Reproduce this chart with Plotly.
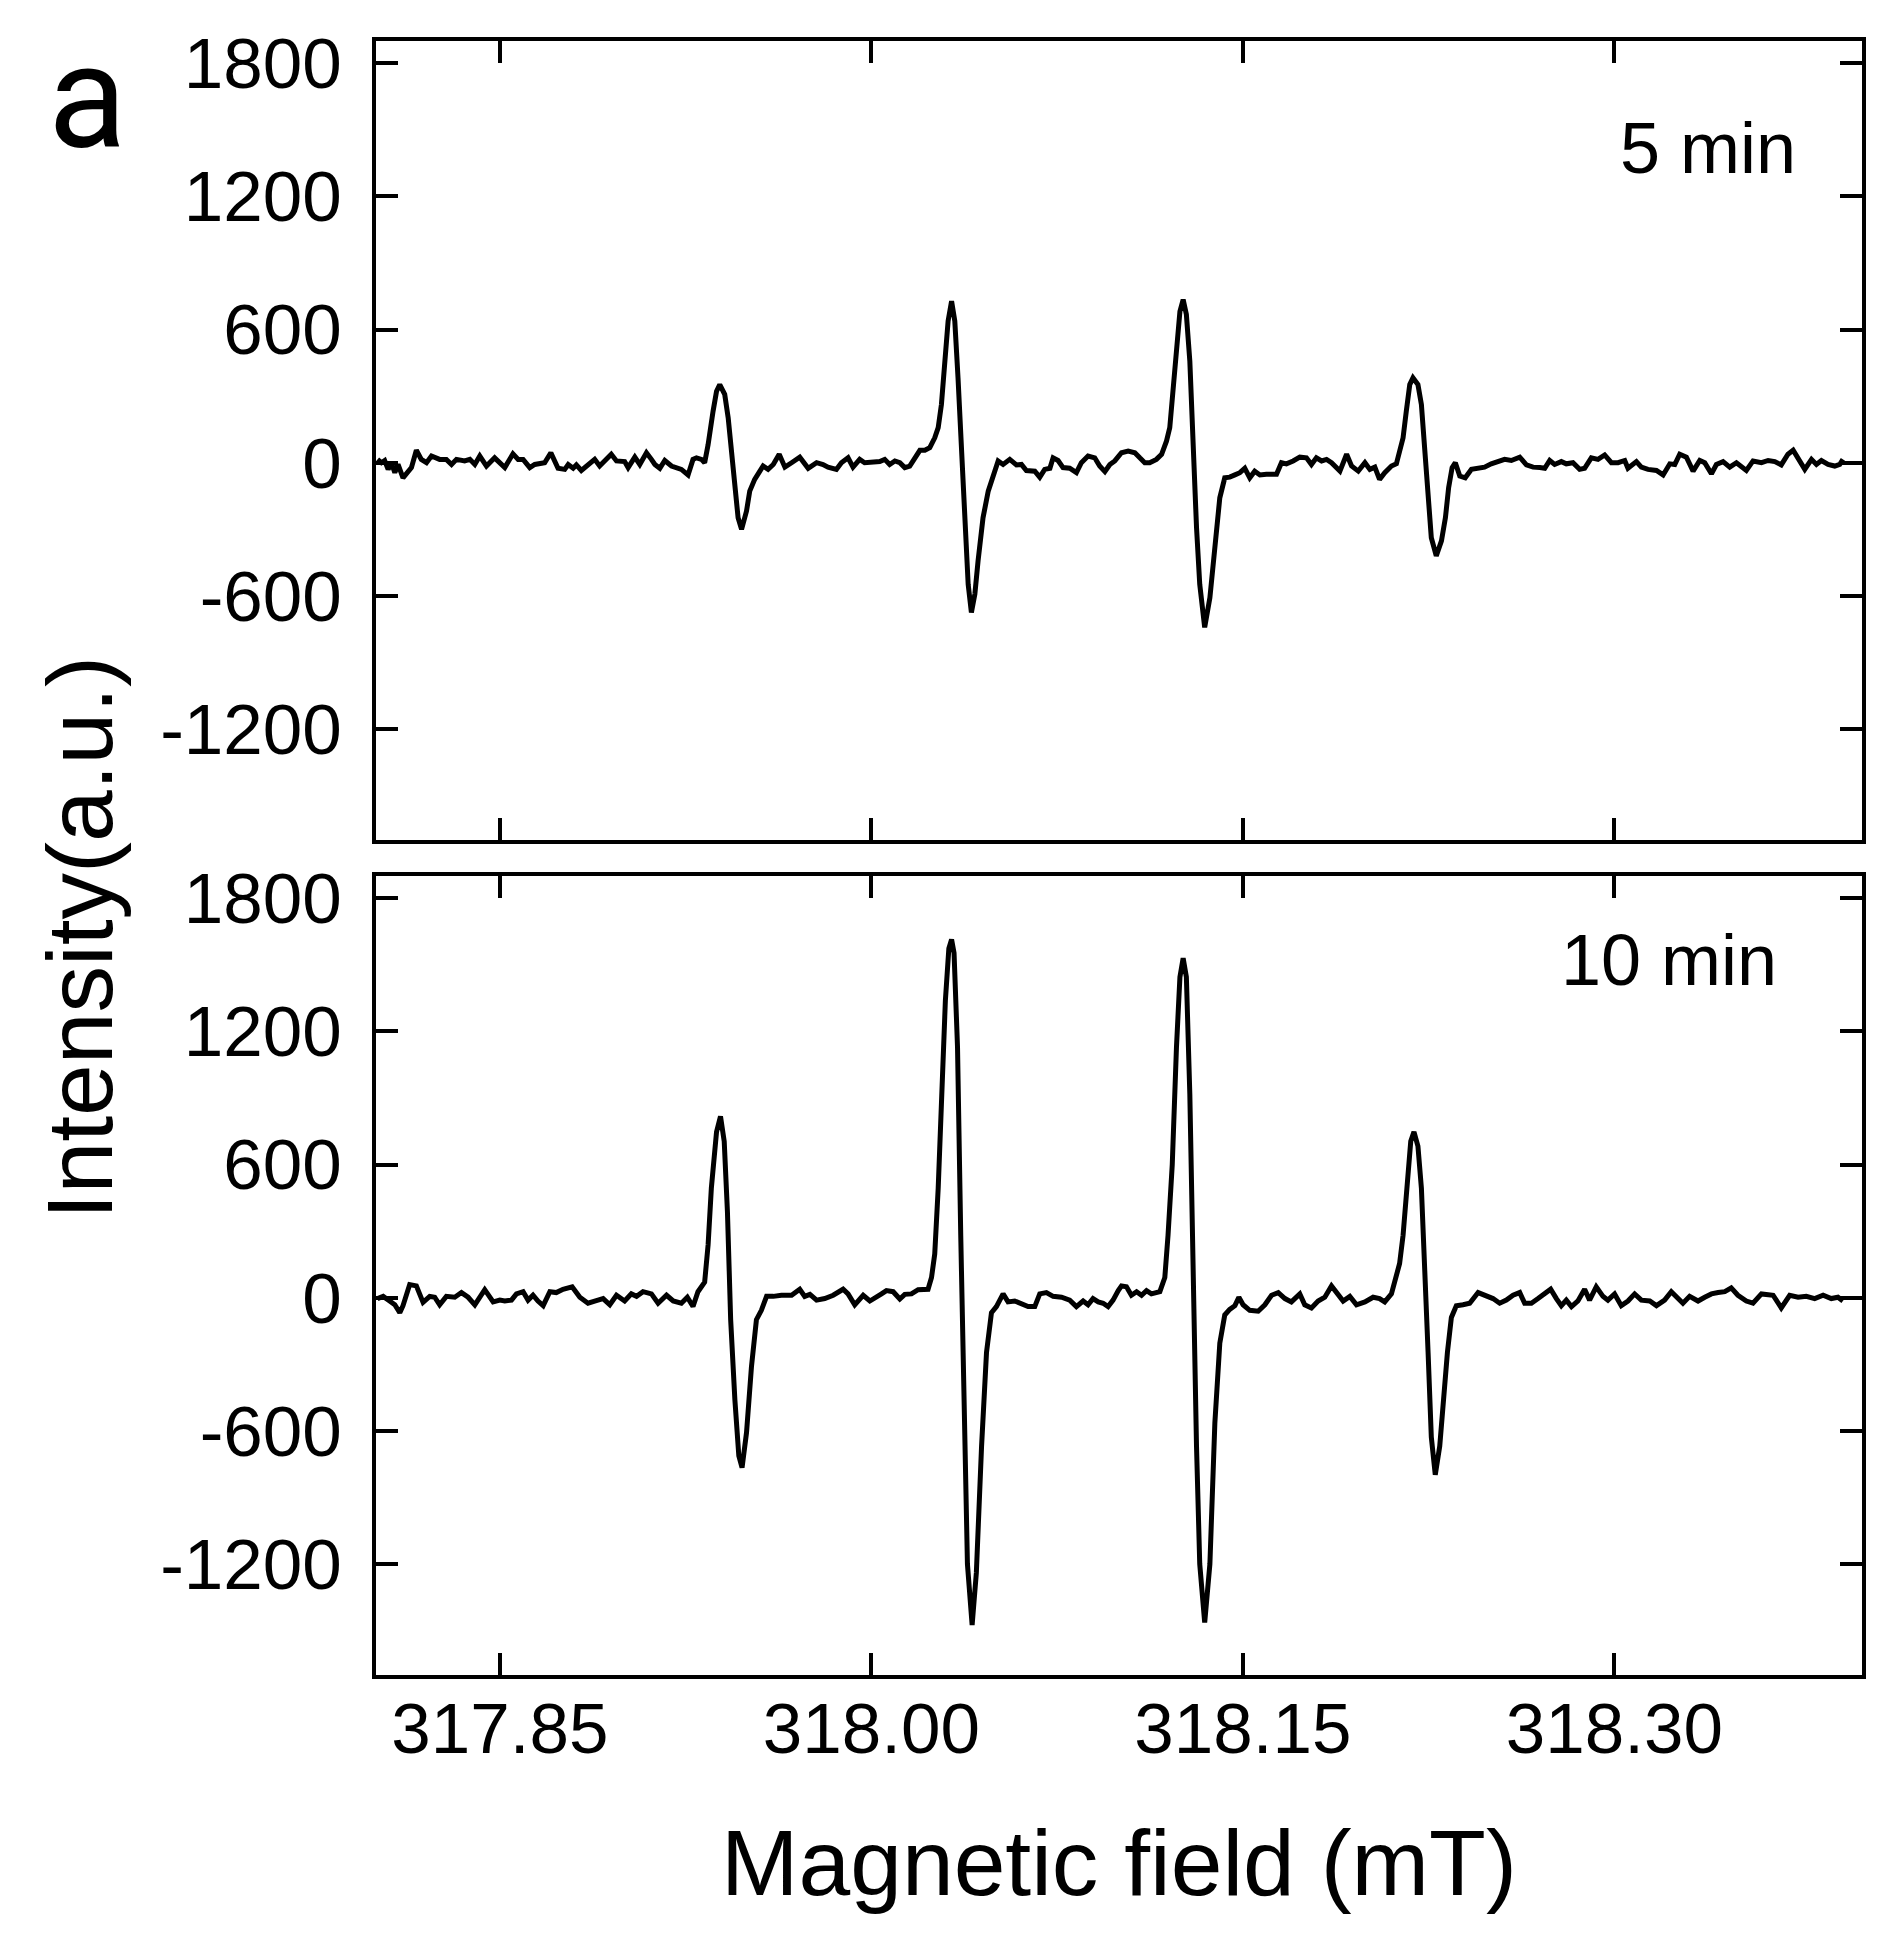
import plotly.graph_objects as go

# ---- 5 min spectrum (top panel) ----
field_5min = [
    317.8006, 317.8022, 317.8035, 317.8049, 317.8062, 317.8076, 317.8089, 317.8109, 317.8143, 317.8163,
    317.8183, 317.8204, 317.8224, 317.8257, 317.8284, 317.8305, 317.8325, 317.8358, 317.8379, 317.8399,
    317.8419, 317.8446, 317.8479, 317.8520, 317.8553, 317.8574, 317.8594, 317.8621, 317.8641, 317.8681,
    317.8706, 317.8735, 317.8762, 317.8776, 317.8796, 317.8809, 317.8829, 317.8856, 317.8883, 317.8903,
    317.8950, 317.8971, 317.9004, 317.9018, 317.9045, 317.9065, 317.9092, 317.9112, 317.9126, 317.9146,
    317.9166, 317.9193, 317.9233, 317.9260, 317.9280, 317.9294, 317.9314, 317.9327, 317.9341, 317.9361,
    317.9375, 317.9388, 317.9408, 317.9422, 317.9435, 317.9449, 317.9462, 317.9476, 317.9496, 317.9509,
    317.9529, 317.9550, 317.9563, 317.9583, 317.9604, 317.9628, 317.9651, 317.9678, 317.9711, 317.9745,
    317.9779, 317.9805, 317.9825, 317.9859, 317.9879, 317.9906, 317.9926, 317.9953, 317.9973,
    318.0034, 318.0054, 318.0074, 318.0095, 318.0115, 318.0135, 318.0155, 318.0175, 318.0196, 318.0216,
    318.0236, 318.0256, 318.0270, 318.0283, 318.0297, 318.0310, 318.0324, 318.0337, 318.0350, 318.0364,
    318.0377, 318.0391, 318.0404, 318.0418, 318.0431, 318.0451, 318.0472, 318.0492, 318.0512, 318.0532,
    318.0559, 318.0586, 318.0606, 318.0626, 318.0660, 318.0680, 318.0700, 318.0721, 318.0734, 318.0754,
    318.0774, 318.0801, 318.0828, 318.0848, 318.0875, 318.0902, 318.0922, 318.0943, 318.0963, 318.0983,
    318.1010, 318.1037, 318.1064, 318.1084, 318.1104, 318.1124, 318.1151, 318.1172, 318.1192, 318.1205,
    318.1219, 318.1232, 318.1246, 318.1259, 318.1272, 318.1286, 318.1299, 318.1313, 318.1326, 318.1346,
    318.1367, 318.1387, 318.1407, 318.1427, 318.1447, 318.1468, 318.1488, 318.1508, 318.1528, 318.1548,
    318.1569, 318.1595, 318.1636, 318.1656, 318.1676, 318.1703, 318.1730, 318.1757, 318.1777, 318.1797,
    318.1818, 318.1838, 318.1858, 318.1892, 318.1919, 318.1939, 318.1966, 318.1993, 318.2013, 318.2033,
    318.2052, 318.2073, 318.2100, 318.2120, 318.2133, 318.2147, 318.2160, 318.2174, 318.2187, 318.2207,
    318.2221, 318.2234, 318.2248, 318.2261, 318.2281, 318.2302, 318.2318, 318.2331, 318.2345, 318.2358,
    318.2376, 318.2398, 318.2423, 318.2450, 318.2476, 318.2503, 318.2530, 318.2557, 318.2584, 318.2618,
    318.2645, 318.2672, 318.2699, 318.2719, 318.2739, 318.2759, 318.2786, 318.2806, 318.2833, 318.2860,
    318.2880, 318.2907, 318.2934, 318.2961, 318.2988, 318.3015, 318.3042, 318.3055, 318.3089, 318.3109,
    318.3136, 318.3170, 318.3197, 318.3224, 318.3244, 318.3264, 318.3291, 318.3318, 318.3345, 318.3365,
    318.3392, 318.3412, 318.3439, 318.3466, 318.3493, 318.3533, 318.3560, 318.3594, 318.3621, 318.3648,
    318.3674, 318.3701, 318.3722, 318.3742, 318.3769, 318.3796, 318.3816, 318.3836, 318.3863, 318.3890,
    318.3910, 318.3923,
]
intensity_5min = [
    15, 0, 10, -30, 0, -45, -8, -68, -22, 56,
    15, 0, 30, 15, 15, -8, 15, 8, 15, -8,
    30, -15, 22, -22, 40, 15, 15, -22, -8, 0,
    45, -25, -30, -8, -25, -10, -35, -8, 15, -15,
    38, 8, 5, -22, 25, -8, 45, 15, -8, -25,
    10, -15, -30, -55, 15, 22, 15, 0, 82, 232,
    322, 352, 308, 202, 38, -142, -248, -300, -218, -128,
    -75, -38, -15, -30, -8, 38, -20, 0, 25, -25,
    0, -8, -20, -30, 0, 22, -20, 15, 0,
    5, 15, -8, 8, 0, -22, -15, 15, 56, 56,
    68, 112, 158, 262, 458, 638, 728, 638, 382, 82,
    -292, -548, -675, -592, -442, -248, -128, -52, 8, -8,
    15, -10, -8, -35, -38, -65, -30, -25, 22, 10,
    -22, -25, -45, 0, 30, 22, -15, -40, -8, 8,
    45, 52, 45, 22, 0, 0, 15, 38, 98, 158,
    352, 532, 682, 735, 668, 458, 82, -292, -548, -742,
    -608, -368, -158, -68, -65, -55, -45, -25, -68, -38,
    -55, -52, -52, 0, -5, 8, 25, 22, -8, 22,
    8, 15, 0, -38, 38, -15, -38, 0, -30, -20,
    -75, -45, -15, -5, 52, 112, 232, 352, 382, 352,
    262, 52, -172, -338, -420, -352, -248, -112, -22, 0,
    -60, -68, -30, -25, -20, -5, 8, 15, 10, 25,
    -10, -20, -22, -25, 10, -8, 5, -5, 0, -30,
    -25, 22, 15, 35, 0, 0, 10, -25, 5, -20,
    -30, -35, -55, -5, -8, 38, 25, -38, 10, 0,
    -50, -8, 5, -20, 0, -35, 8, 0, 10, 5,
    -10, 38, 56, 22, -30, 15, -8, 10, -8, -15,
    -8, 15,
]

# ---- 10 min spectrum (bottom panel) ----
field_10min = [
    317.8006, 317.8029, 317.8055, 317.8076, 317.8096, 317.8109, 317.8136, 317.8163, 317.8190, 317.8217,
    317.8237, 317.8257, 317.8284, 317.8318, 317.8345, 317.8372, 317.8399, 317.8439, 317.8473, 317.8500,
    317.8520, 317.8547, 317.8567, 317.8594, 317.8614, 317.8634, 317.8654, 317.8675, 317.8702, 317.8728,
    317.8755, 317.8792, 317.8823, 317.8856, 317.8883, 317.8917, 317.8944, 317.8971, 317.9004, 317.9031,
    317.9052, 317.9078, 317.9112, 317.9139, 317.9173, 317.9200, 317.9233, 317.9257, 317.9280, 317.9300,
    317.9327, 317.9341, 317.9354, 317.9375, 317.9391, 317.9406, 317.9419, 317.9432, 317.9449, 317.9465,
    317.9478, 317.9496, 317.9516, 317.9536, 317.9556, 317.9577, 317.9604, 317.9637, 317.9678, 317.9711,
    317.9731, 317.9752, 317.9779, 317.9812, 317.9846, 317.9886, 317.9906, 317.9933, 317.9967, 317.9994,
    318.0041, 318.0061, 318.0088, 318.0115, 318.0135, 318.0162, 318.0189, 318.0229, 318.0243, 318.0256,
    318.0270, 318.0283, 318.0299, 318.0313, 318.0324, 318.0334, 318.0348, 318.0361, 318.0375, 318.0388,
    318.0407, 318.0424, 318.0445, 318.0465, 318.0485, 318.0505, 318.0532, 318.0552, 318.0579, 318.0606,
    318.0633, 318.0660, 318.0680, 318.0707, 318.0734, 318.0768, 318.0801, 318.0828, 318.0855, 318.0875,
    318.0895, 318.0916, 318.0936, 318.0956, 318.0976, 318.0997, 318.1010, 318.1030, 318.1050, 318.1071,
    318.1091, 318.1111, 318.1131, 318.1165, 318.1185, 318.1198, 318.1215, 318.1232, 318.1246, 318.1259,
    318.1272, 318.1286, 318.1299, 318.1313, 318.1326, 318.1346, 318.1367, 318.1387, 318.1407, 318.1427,
    318.1447, 318.1468, 318.1484, 318.1501, 318.1528, 318.1562, 318.1589, 318.1616, 318.1643, 318.1670,
    318.1696, 318.1730, 318.1750, 318.1777, 318.1804, 318.1831, 318.1858, 318.1885, 318.1905, 318.1932,
    318.1959, 318.1993, 318.2026,
    318.2052, 318.2073, 318.2100, 318.2120, 318.2133, 318.2147, 318.2160, 318.2178, 318.2191, 318.2207,
    318.2221, 318.2234, 318.2248, 318.2261, 318.2277, 318.2295, 318.2312, 318.2326, 318.2342, 318.2362,
    318.2389, 318.2416, 318.2450, 318.2483, 318.2510, 318.2537, 318.2564, 318.2591, 318.2618, 318.2638,
    318.2665, 318.2692, 318.2719, 318.2743, 318.2766, 318.2786, 318.2806, 318.2827, 318.2853, 318.2880,
    318.2900, 318.2927, 318.2954, 318.2974, 318.3001, 318.3028, 318.3055, 318.3082, 318.3109, 318.3143,
    318.3170, 318.3203, 318.3230, 318.3257, 318.3277, 318.3304, 318.3338, 318.3365, 318.3392, 318.3419,
    318.3446, 318.3472, 318.3499, 318.3533, 318.3560, 318.3594, 318.3641, 318.3674, 318.3708, 318.3742,
    318.3775, 318.3809, 318.3843, 318.3876, 318.3903, 318.3923,
]
intensity_10min = [
    -4, 6, -15, -32, -68, -36, 59, 53, -21, 6,
    2, -32, 6, 2, 23, 2, -32, 36, -19, -11,
    -15, -11, 17, 27, -11, 11, -15, -36, 27, 23,
    38, 49, 2, -25, -15, -4, -32, 11, -15, 17,
    6, 27, 17, -25, 11, -15, -25, 2, -40, 27,
    70, 239, 493, 747, 817, 704, 387, -99, -459, -713,
    -766, -608, -311, -99, -57, 6, 6, 11, 11, 38,
    6, 15, -11, -4, 11, 38, 17, -32, 11, -15,
    17, 32, 27, -6, 15, 17, 36, 38, 91, 197,
    494, 917, 1340, 1573, 1614, 1553, 1128, 281, -565, -1200,
    -1475, -1240, -671, -247, -68, -40, 17, -19, -15, -25,
    -40, -40, 17, 23, 6, 2, -11, -40, -15, -32,
    -4, -19, -25, -40, -11, 32, 53, 49, 11, 27,
    11, 32, 17, 27, 91, 282, 599, 1128, 1445, 1530,
    1445, 916, 70, -671, -1200, -1464, -1200, -565, -205, -78,
    -53, -36, 2, -32, -57, -61, -32, 11, 23, -4,
    -19, 17, -32, -46, -15, 2, 53, 17, -15, 6,
    -32, -19, 2,
    -4, -19, 17, 91, 154, 281, 493, 705, 747, 683,
    493, 70, -247, -628, -798, -669, -395, -247, -89, -36,
    -32, -25, 23, 6, -4, -25, -11, 11, 23, -25,
    -25, -4, 17, 38, -4, -36, -11, -40, -15, 38,
    -11, 49, 6, -11, 17, -36, -15, 17, -11, -15,
    -36, -11, 27, -4, -25, 6, -15, 2, 17, 23,
    27, 44, 11, -15, -25, 17, 11, -46, 11, 2,
    6, -4, 11, -4, 2, -15,
]

x_ticks = [317.85, 318.00, 318.15, 318.30]
x_tick_labels = ["317.85", "318.00", "318.15", "318.30"]
y_ticks = [-1200, -600, 0, 600, 1200, 1800]
y_tick_labels = ["-1200", "-600", "0", "600", "1200", "1800"]
panel_labels = ["5 min", "10 min"]

FONT = "Arial, Liberation Sans, sans-serif"
LINE = dict(color="black", width=5)

fig = go.Figure()
fig.add_trace(go.Scatter(x=field_5min, y=intensity_5min, mode="lines", line=LINE,
                         xaxis="x", yaxis="y", showlegend=False))
fig.add_trace(go.Scatter(x=field_10min, y=intensity_10min, mode="lines", line=LINE,
                         xaxis="x2", yaxis="y2", showlegend=False))

axis_common = dict(
    showline=True, linecolor="black", linewidth=4, mirror="ticks",
    ticks="inside", ticklen=22, tickwidth=3.5, tickcolor="black",
    showgrid=False, zeroline=False,
    tickfont=dict(family=FONT, size=71, color="black"),
)

fig.update_layout(
    width=1882, height=1942,
    margin=dict(l=368, r=28, t=33, b=275),
    paper_bgcolor="white", plot_bgcolor="white",
    xaxis=dict(axis_common, domain=[0, 1], anchor="y", range=[317.80, 318.40],
               tickvals=x_ticks, ticktext=x_tick_labels, showticklabels=False),
    yaxis=dict(axis_common, domain=[0.511, 1], anchor="x", range=[-1700, 1900],
               tickvals=y_ticks, ticktext=y_tick_labels, ticklabelstandoff=16),
    xaxis2=dict(axis_common, domain=[0, 1], anchor="y2", range=[317.80, 318.40],
                tickvals=x_ticks, ticktext=x_tick_labels, ticklabelstandoff=-11),
    yaxis2=dict(axis_common, domain=[0, 0.489], anchor="x2", range=[-1700, 1900],
                tickvals=y_ticks, ticktext=y_tick_labels, ticklabelstandoff=16),
    annotations=[
        dict(text=panel_labels[0], xref="paper", yref="paper", x=0.957, y=0.9345,
             xanchor="right", yanchor="middle", showarrow=False,
             font=dict(family=FONT, size=72, color="black")),
        dict(text=panel_labels[1], xref="paper", yref="paper", x=0.944, y=0.4376,
             xanchor="right", yanchor="middle", showarrow=False,
             font=dict(family=FONT, size=72, color="black")),
        dict(text="Magnetic field (mT)", xref="paper", yref="paper", x=0.5, y=-0.115,
             xanchor="center", yanchor="middle", showarrow=False,
             font=dict(family=FONT, size=93, color="black")),
        dict(text="Intensity(a.u.)", xref="paper", yref="paper", x=-0.199, y=0.451,
             xanchor="center", yanchor="middle", showarrow=False, textangle=-90,
             font=dict(family=FONT, size=93, color="black")),
        dict(text="a", xref="paper", yref="paper", x=-0.194, y=1.019,
             xanchor="center", yanchor="top", showarrow=False,
             font=dict(family="Roboto, Open Sans, sans-serif", size=145, color="black")),
    ],
)

fig.write_html("out.html")
